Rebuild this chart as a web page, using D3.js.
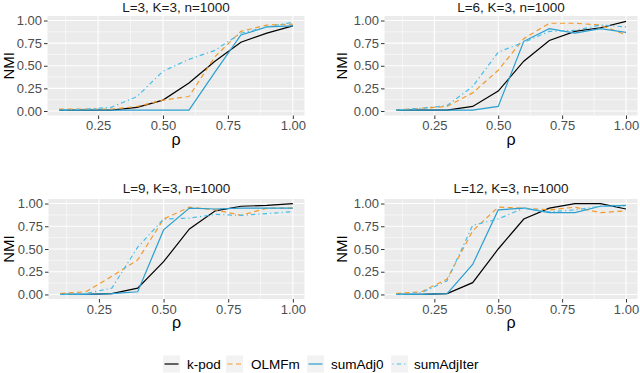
<!DOCTYPE html>
<html><head><meta charset="utf-8">
<script src="https://cdn.jsdelivr.net/npm/d3@7"></script>
<style>body{margin:0;background:#fff}svg{display:block;font-family:"Liberation Sans",Arial,sans-serif}</style>
</head><body><svg id="c" width="640" height="373"></svg>
<script>
const rho = [0.1,0.2,0.3,0.4,0.5,0.6,0.7,0.8,0.9,1.0];
const titles = ["L=3, K=3, n=1000","L=6, K=3, n=1000","L=9, K=3, n=1000","L=12, K=3, n=1000"];
const methods = ["k-pod","OLMFm","sumAdj0","sumAdjIter"];
const xTicks = [0.25,0.5,0.75,1.0];
const yTicks = [0,0.25,0.5,0.75,1.0];
// NMI values per panel (L=3,6,9,12)
const kpod = [
  [0.01,0.01,0.01,0.04,0.12,0.31,0.55,0.76,0.86,0.94],
  [0.01,0.01,0.01,0.05,0.22,0.55,0.78,0.88,0.92,0.99],
  [0.00,0.00,0.01,0.07,0.36,0.72,0.92,0.97,0.98,1.00],
  [0.00,0.00,0.01,0.13,0.50,0.83,0.95,1.00,1.00,0.94]
];
const olmfm = [
  [0.02,0.02,0.02,0.05,0.12,0.16,0.60,0.88,0.95,0.96],
  [0.01,0.03,0.05,0.20,0.45,0.80,0.97,0.97,0.95,0.84],
  [0.01,0.03,0.20,0.38,0.83,0.96,0.93,0.87,0.95,0.95],
  [0.01,0.03,0.17,0.70,0.96,0.95,0.93,0.96,0.90,0.92]
];
const sumAdj0 = [
  [0.01,0.01,0.01,0.01,0.01,0.01,0.43,0.84,0.93,0.94],
  [0.01,0.01,0.01,0.01,0.05,0.77,0.91,0.86,0.91,0.87],
  [0.00,0.00,0.01,0.03,0.71,0.95,0.94,0.95,0.95,0.95],
  [0.00,0.00,0.01,0.33,0.93,0.95,0.90,0.90,0.97,0.98]
];
const sumAdjIter = [
  [0.01,0.02,0.04,0.16,0.44,0.57,0.67,0.86,0.93,0.98],
  [0.01,0.03,0.06,0.27,0.65,0.76,0.88,0.89,0.95,0.93],
  [0.00,0.01,0.07,0.52,0.83,0.84,0.88,0.87,0.89,0.91],
  [0.00,0.02,0.15,0.76,0.83,0.95,0.91,0.93,0.97,0.97]
];
const seriesData = [kpod, olmfm, sumAdj0, sumAdjIter];
const colors = ["#000000","#f39a2c","#2a9fd0","#45bde8"];
const dashes = [null,"5,3.5","","1.2,3,4.5,3"];

const svg = d3.select("#c");
const frames = [
  {x0:47.5,x1:304.5,y0:16,y1:115.5,tb:11.5,nmx:13.5},
  {x0:384.5,x1:637.5,y0:16,y1:115.5,tb:11.5,nmx:347},
  {x0:48.5,x1:304.5,y0:199,y1:299,tb:192.5,nmx:13.5},
  {x0:384.5,x1:637.5,y0:199,y1:299,tb:192.5,nmx:347}
];
frames.forEach((f,pi)=>{
  const x = d3.scaleLinear().domain([0.055,1.045]).range([f.x0,f.x1]);
  const y = d3.scaleLinear().domain([-0.05,1.05]).range([f.y1,f.y0]);
  const g = svg.append("g");
  g.append("rect").attr("x",f.x0).attr("y",f.y0).attr("width",f.x1-f.x0).attr("height",f.y1-f.y0).attr("fill","#EBEBEB");
  const xMinor=[0.125,0.375,0.625,0.875], yMinor=[0.125,0.375,0.625,0.875];
  g.selectAll(".xm").data(xMinor).join("line").attr("x1",d=>x(d)).attr("x2",d=>x(d)).attr("y1",f.y0).attr("y2",f.y1).attr("stroke","#fff").attr("stroke-width",0.55);
  g.selectAll(".ym").data(yMinor).join("line").attr("y1",d=>y(d)).attr("y2",d=>y(d)).attr("x1",f.x0).attr("x2",f.x1).attr("stroke","#fff").attr("stroke-width",0.55);
  g.selectAll(".xM").data(xTicks).join("line").attr("x1",d=>x(d)).attr("x2",d=>x(d)).attr("y1",f.y0).attr("y2",f.y1).attr("stroke","#fff").attr("stroke-width",1.1);
  g.selectAll(".yM").data(yTicks).join("line").attr("y1",d=>y(d)).attr("y2",d=>y(d)).attr("x1",f.x0).attr("x2",f.x1).attr("stroke","#fff").attr("stroke-width",1.1);
  // axes
  const xa = g.append("g").attr("transform",`translate(0,${f.y1})`).call(d3.axisBottom(x).tickValues(xTicks).tickFormat(d3.format(".2f")).tickSize(3.5).tickPadding(2));
  const ya = g.append("g").attr("transform",`translate(${f.x0},0)`).call(d3.axisLeft(y).tickValues(yTicks).tickFormat(d3.format(".2f")).tickSize(3.5).tickPadding(2));
  [xa,ya].forEach(a=>{a.select(".domain").remove();a.selectAll("line").attr("stroke","#333").attr("stroke-width",1);a.selectAll("text").attr("fill","#4D4D4D").style("font-size","13px").style("font-family","'Liberation Sans',Arial,sans-serif");});
  // lines
  const line = d3.line().x((d,i)=>x(rho[i])).y(d=>y(d));
  seriesData.forEach((s,si)=>{
    g.append("path").attr("d",line(s[pi])).attr("fill","none").attr("stroke",colors[si]).attr("stroke-width",1.2)
     .attr("stroke-dasharray",dashes[si]||null);
  });
  g.append("text").attr("x",(f.x0+f.x1)/2).attr("y",f.tb).attr("text-anchor","middle").style("font-size","13.5px").attr("fill","#1a1a1a").text(titles[pi]);
  g.append("text").attr("x",(f.x0+f.x1)/2).attr("y",f.y1+29).attr("text-anchor","middle").style("font-size","16px").attr("fill","#000").text("ρ");
  g.append("text").attr("transform",`translate(${f.nmx},${(f.y0+f.y1)/2}) rotate(-90)`).attr("text-anchor","middle").style("font-size","15px").attr("fill","#000").text("NMI");
});
// legend
const legX = [163,226,307,391], legT=[187,251,331,414];
methods.forEach((m,i)=>{
  const lg = svg.append("g");
  lg.append("rect").attr("x",legX[i]).attr("y",355.5).attr("width",17).attr("height",17).attr("fill","#F2F2F2");
  lg.append("line").attr("x1",legX[i]+1.5).attr("x2",legX[i]+15.5).attr("y1",364).attr("y2",364).attr("stroke",colors[i]).attr("stroke-width",1.2).attr("stroke-dasharray",dashes[i]||null);
  lg.append("text").attr("x",legT[i]).attr("y",369).style("font-size","13.5px").attr("fill","#000").text(m);
});
</script></body></html>
